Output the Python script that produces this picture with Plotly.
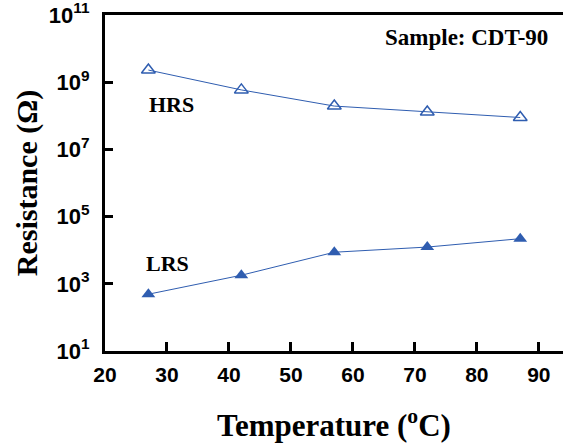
import plotly.graph_objects as go

# Measured resistance vs. temperature for sample CDT-90
temperature_c = [27, 42, 57, 72, 87]
hrs_ohm = [2.3e9, 5.9e8, 1.95e8, 1.3e8, 8.9e7]
lrs_ohm = [490, 1.8e3, 8.7e3, 1.24e4, 2.2e4]

x_ticks = [20, 30, 40, 50, 60, 70, 80, 90]
y_exponents = [1, 3, 5, 7, 9, 11]
y_tick_vals = [10 ** e for e in y_exponents]
y_tick_text = [f"10<sup>{e}</sup>" for e in y_exponents]

blue = "#2F5DB0"
serif = "Liberation Serif"
sans = "Liberation Sans"

fig = go.Figure()
fig.add_trace(go.Scatter(
    x=temperature_c, y=hrs_ohm, mode="lines+markers", name="HRS",
    line=dict(color=blue, width=1),
    marker=dict(symbol="triangle-up-open", size=12, color=blue, line=dict(width=1.5)),
))
fig.add_trace(go.Scatter(
    x=temperature_c, y=lrs_ohm, mode="lines+markers", name="LRS",
    line=dict(color=blue, width=1),
    marker=dict(symbol="triangle-up", size=12, color=blue),
))

# plot area in pixels
left, right, top, bottom = 105, 0, 15, 95
pw, ph = 563 - left - right, 446 - top - bottom

fig.update_layout(
    width=563, height=446,
    margin=dict(l=left, r=right, t=top, b=bottom),
    paper_bgcolor="white", plot_bgcolor="white",
    showlegend=False,
    xaxis=dict(
        range=[20, 93.9], tickvals=x_ticks,
        showgrid=False, zeroline=False,
        showline=True, linecolor="black", linewidth=3, mirror=True,
        ticks="inside", ticklen=9, tickwidth=3, tickcolor="black",
        ticklabelstandoff=3,
        tickfont=dict(family=sans, size=21, color="black", weight="bold"),
        title=dict(text="Temperature (<sup>o</sup>C)",
                   font=dict(family=serif, size=31, color="black", weight="bold"),
                   standoff=30),
    ),
    yaxis=dict(
        type="log", range=[0.9999, 11.0005], tickvals=y_tick_vals, ticktext=y_tick_text,
        showgrid=False, zeroline=False,
        showline=True, linecolor="black", linewidth=3,
        ticks="inside", ticklen=8, tickwidth=3, tickcolor="black",
        ticklabelstandoff=8, ticklabeloverflow="allow",
        tickfont=dict(family=sans, size=22, color="black", weight="bold"),
        title=dict(text="Resistance (Ω)",
                   font=dict(family=serif, size=30, color="black", weight="bold"),
                   standoff=3),
    ),
    annotations=[
        dict(text="Sample: CDT-90", x=(550 - left) / pw, y=(351 - 37) / ph,
             xref="paper", yref="paper",
             showarrow=False, xanchor="right", yanchor="middle",
             font=dict(family=serif, size=23, color="black", weight="bold")),
        dict(text="HRS", x=26.8, y=8.35, xref="x", yref="y",
             showarrow=False, xanchor="left", yanchor="middle",
             font=dict(family=serif, size=22, color="black", weight="bold")),
        dict(text="LRS", x=26.3, y=3.60, xref="x", yref="y",
             showarrow=False, xanchor="left", yanchor="middle",
             font=dict(family=serif, size=22, color="black", weight="bold")),
    ],
)

fig.write_html("out.html")
